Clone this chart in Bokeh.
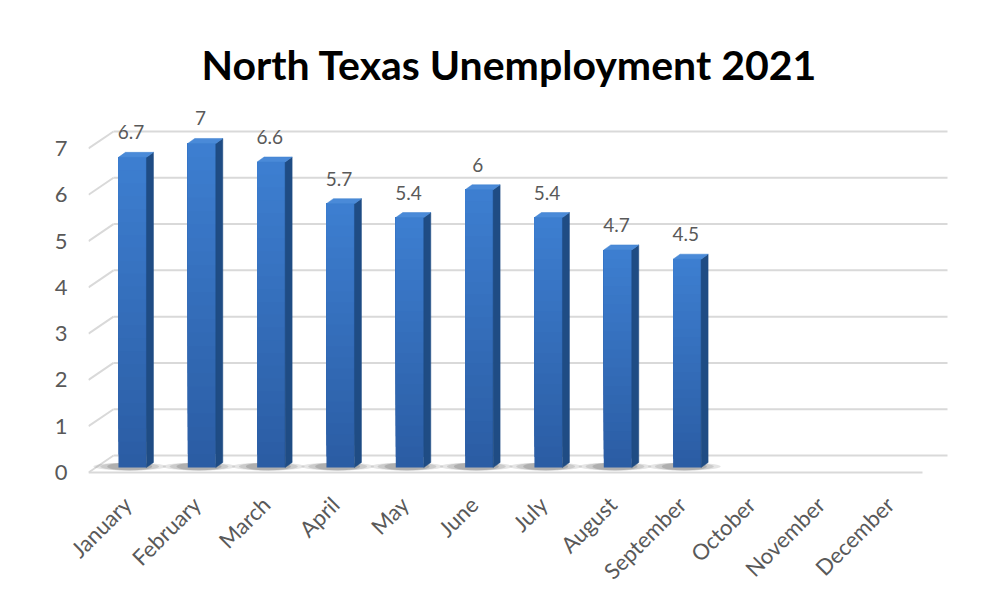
import math
from bokeh.plotting import figure
from bokeh.models import Range1d, FixedTicker, ColumnDataSource, LabelSet
from bokeh.embed import file_html
from bokeh.resources import INLINE
from bokeh.core.properties import value

# ---------------- data ----------------
title_text = "North Texas Unemployment 2021"
months = ["January", "February", "March", "April", "May", "June",
          "July", "August", "September", "October", "November", "December"]
rates = [6.7, 7.0, 6.6, 5.7, 5.4, 6.0, 5.4, 4.7, 4.5]
rate_labels = ["6.7", "7", "6.6", "5.7", "5.4", "6", "5.4", "4.7", "4.5"]
y_ticks = [0, 1, 2, 3, 4, 5, 6, 7]

# ---------------- geometry (pixel -> data helpers) ----------------
W, H = 994, 605
FL, FR, FT, FB = 88, 960, 100, 476          # frame edges in px
X_PX0, X_PX_PER = 90, 69.33                 # x data 0 at px 90
Y_PX0, Y_PX_PER = 472, 46.29                # y data 0 at px 472

def xd(px):
    return (px - X_PX0) / X_PX_PER

def yd(px):
    return (Y_PX0 - px) / Y_PX_PER

DX = 25 / X_PX_PER      # depth offset of back wall
DY = 17 / Y_PX_PER
BSHIFT_X = 7.3 / X_PX_PER   # bar plane shift
BBASE = 5 / Y_PX_PER
BW = 28 / X_PX_PER
SDX = 7 / X_PX_PER
SDY = 5 / Y_PX_PER

p = figure(width=W, height=H, output_backend="svg", toolbar_location=None,
           x_range=Range1d(xd(FL), xd(FR)), y_range=Range1d(yd(FB), yd(FT)),
           min_border_left=FL, min_border_right=W - FR,
           min_border_top=FT, min_border_bottom=H - FB)
p.outline_line_color = None
p.background_fill_color = "white"
p.border_fill_color = "white"
p.xgrid.visible = False
p.ygrid.visible = False

# ---------------- title ----------------
p.title.text = title_text
p.title.text_font = "Lato"
p.title.text_font_style = "bold"
p.title.text_font_size = "41px"
p.title.text_color = "#000000"
p.title.align = "left"
p.title.offset = 113
p.title.standoff = 19
p.title.vertical_align = "top"

# ---------------- 3D grid ----------------
x_front0 = xd(88)
x_front1 = xd(922)
back_x0 = [x_front0 + DX for _ in y_ticks]
back_x1 = [x_front1 + DX for _ in y_ticks]
back_y = [v + DY for v in y_ticks]
grid_col = "#d9d9d9"
p.segment(x0=back_x0, y0=back_y, x1=back_x1, y1=back_y,
          line_color=grid_col, line_width=2)
p.segment(x0=[x_front0 for _ in y_ticks], y0=y_ticks, x1=back_x0, y1=back_y,
          line_color=grid_col, line_width=2)
p.segment(x0=[x_front0], y0=[0], x1=[x_front1], y1=[0],
          line_color=grid_col, line_width=2)

# ---------------- bars ----------------
centers = [i + 0.5 + BSHIFT_X for i in range(len(rates))]
lefts = [c - BW / 2 for c in centers]
rights = [c + BW / 2 for c in centers]
tops = [BBASE + v for v in rates]

# floor shadows (soft, layered)
for w, a in [(1.05, 0.18), (0.85, 0.22), (0.65, 0.30)]:
    p.ellipse(x=[c - 0.04 for c in centers], y=[BBASE + 0.02 for _ in centers],
              width=w, height=0.17, fill_color="#707070", fill_alpha=a,
              line_color=None)

# front faces with a vertical gradient (layered, no seams)
n_sl = 24
top_rgb = (0x3d, 0x7e, 0xd0)
bot_rgb = (0x2b, 0x5d, 0xa4)
for k in range(n_sl):
    t = k / (n_sl - 1)
    col = "#%02x%02x%02x" % tuple(int(round(b + (a - b) * t)) for a, b in zip(top_rgb, bot_rgb))
    b0 = [BBASE + v * k / n_sl for v in rates]
    p.quad(left=lefts, right=rights, bottom=b0, top=tops,
           fill_color=col, line_color=None)

# side faces
side_xs = [[r, r + SDX, r + SDX, r] for r in rights]
side_ys = [[BBASE, BBASE + SDY, t + SDY, t] for t in tops]
p.patches(side_xs, side_ys, fill_color="#1f4c84", line_color="#1f4c84", line_width=0.5)

# top faces
top_xs = [[l, r, r + SDX, l + SDX] for l, r in zip(lefts, rights)]
top_ys = [[t, t, t + SDY, t + SDY] for t in tops]
p.patches(top_xs, top_ys, fill_color="#4a8ad8", line_color="#3f80cf", line_width=0.5)

# data labels
lab_src = ColumnDataSource(dict(x=[c - 0.02 for c in centers],
                                y=[t + 0.54 for t in tops],
                                text=rate_labels))
p.add_layout(LabelSet(x="x", y="y", text="text", source=lab_src,
                      text_align="center", text_baseline="middle",
                      text_font=value("Lato"), text_font_size=value("19px"),
                      text_color="#595959"))

# ---------------- axes ----------------
tick_pos = [i + 0.5 + 0.03 for i in range(len(months))]
p.xaxis.ticker = FixedTicker(ticks=tick_pos)
p.xaxis.major_label_overrides = {t: m for t, m in zip(tick_pos, months)}
p.xaxis.major_label_orientation = math.pi / 4
p.xaxis.major_label_text_font = "Lato"
p.xaxis.major_label_text_font_size = "22px"
p.xaxis.major_label_text_color = "#595959"
p.xaxis.major_label_standoff = 24
p.xaxis.axis_line_color = None
p.xaxis.major_tick_line_color = None
p.xaxis.minor_tick_line_color = None
p.xaxis.major_tick_out = 0

p.yaxis.ticker = FixedTicker(ticks=y_ticks)
p.yaxis.major_label_text_font = "Lato"
p.yaxis.major_label_text_font_size = "22px"
p.yaxis.major_label_text_color = "#595959"
p.yaxis.major_label_standoff = 21
p.yaxis.axis_line_color = None
p.yaxis.major_tick_line_color = None
p.yaxis.minor_tick_line_color = None
p.yaxis.major_tick_out = 0

open("out.html", "w").write(file_html(p, INLINE))
